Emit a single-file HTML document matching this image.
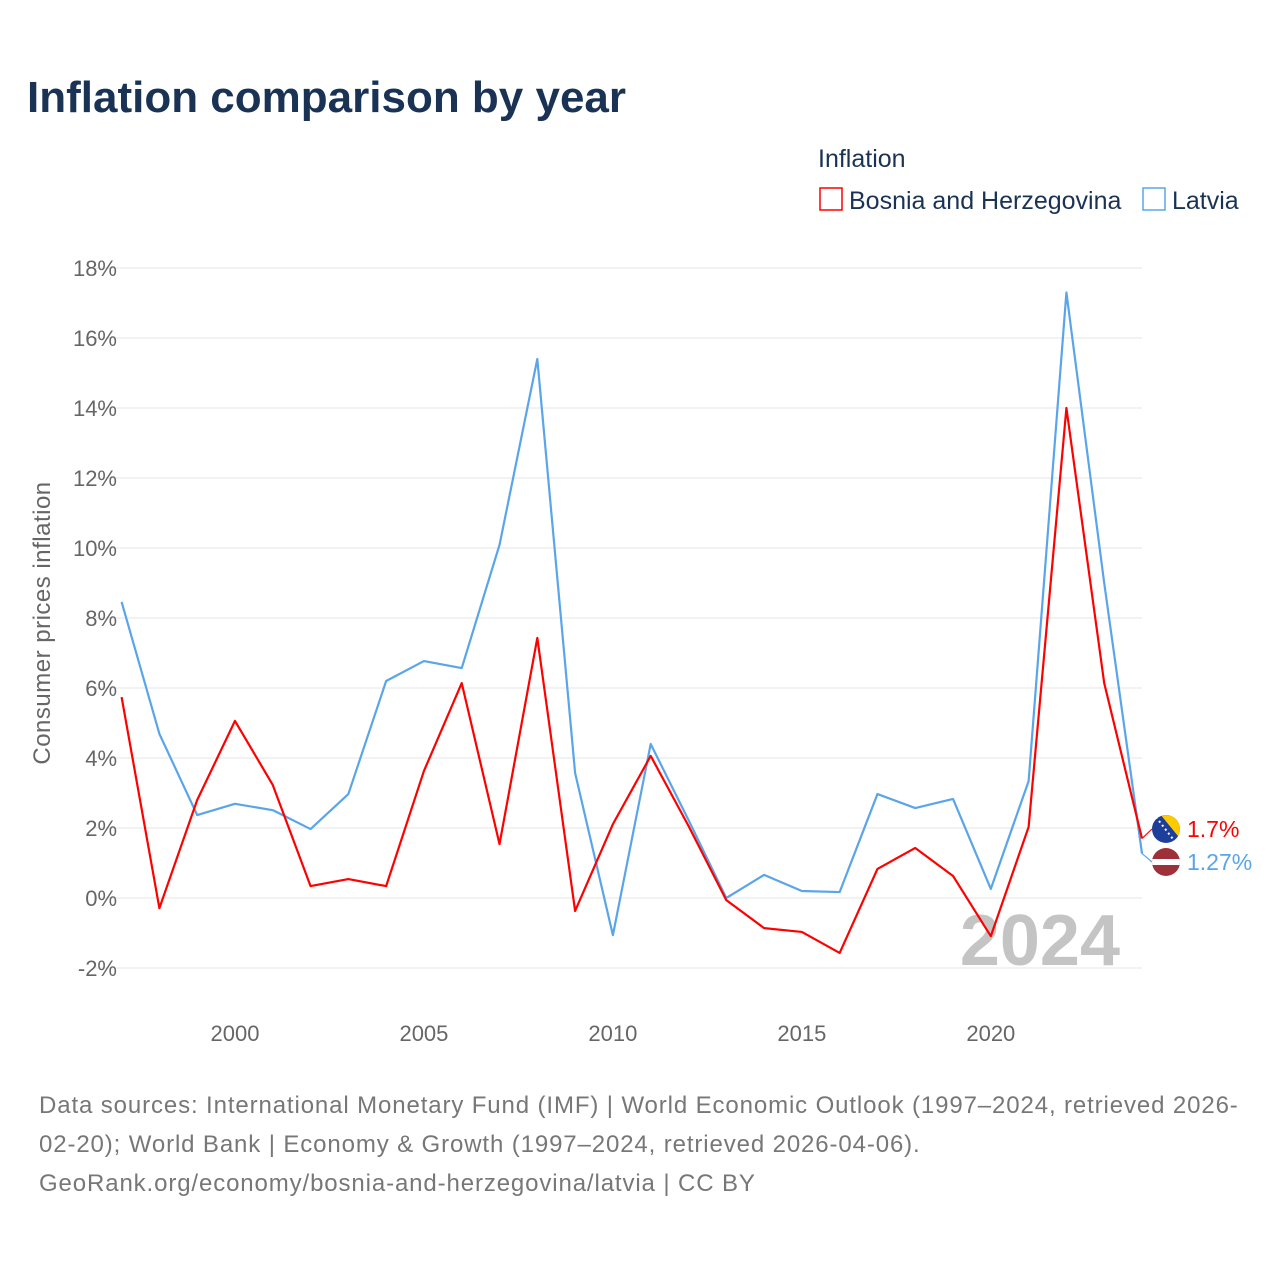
<!DOCTYPE html>
<html><head><meta charset="utf-8">
<style>
body{margin:0;background:#fff;font-family:"Liberation Sans",sans-serif;}
#wrap{position:relative;width:1280px;height:1280px;overflow:hidden;}
</style></head>
<body>
<div id="wrap">
<svg id="chart" width="1280" height="1280">
<defs>
<clipPath id="cb"><circle cx="1166" cy="829" r="14"/></clipPath>
<clipPath id="cl"><circle cx="1166" cy="862" r="14"/></clipPath>
</defs>
</svg>
</div>
<script>
const years = [1997,1998,1999,2000,2001,2002,2003,2004,2005,2006,2007,2008,2009,2010,2011,2012,2013,2014,2015,2016,2017,2018,2019,2020,2021,2022,2023,2024];
const bosnia = [5.74,-0.29,2.8,5.06,3.23,0.34,0.54,0.34,3.63,6.14,1.54,7.43,-0.37,2.11,4.06,2.06,-0.06,-0.86,-0.97,-1.57,0.83,1.43,0.63,-1.09,2.03,14.0,6.14,1.7];
const latvia = [8.46,4.69,2.37,2.69,2.51,1.97,2.97,6.2,6.77,6.57,10.09,15.4,3.57,-1.06,4.4,2.23,0,0.66,0.2,0.17,2.97,2.57,2.83,0.26,3.34,17.3,9.0,1.27];
const yTicks = [18,16,14,12,10,8,6,4,2,0,-2];
const xTicks = [2000,2005,2010,2015,2020];

const NS="http://www.w3.org/2000/svg";
const svg=document.getElementById('chart');
const x=v=>121.6+(v-1997)*(1142-121.6)/27;
const y=v=>898-v*35;
function mk(tag,attrs,parent){const e=document.createElementNS(NS,tag);for(const k in attrs)e.setAttribute(k,attrs[k]);(parent||svg).appendChild(e);return e;}
function txt(s,attrs){const e=mk('text',attrs);e.textContent=s;return e;}

let t=txt('Inflation comparison by year',{x:27,y:112,'font-size':44,'font-weight':'bold',fill:'#1a3355'});


t=txt('Inflation',{x:818,y:167,'font-size':25,fill:'#1a3355'});


let g=mk('g',{});


mk('rect',{x:820,y:188,width:22,height:22,fill:'none',stroke:'#ff0000','stroke-width':1.5},g);
let tt=mk('text',{x:849,y:209,'font-size':25,fill:'#1a3355'},g);tt.textContent='Bosnia and Herzegovina';
g=mk('g',{});


mk('rect',{x:1143,y:188,width:22,height:22,fill:'none',stroke:'#5aa5ea','stroke-width':1.5},g);
tt=mk('text',{x:1172,y:209,'font-size':25,fill:'#1a3355'},g);tt.textContent='Latvia';

yTicks.forEach(v=>{
  const l=mk('line',{x1:95,x2:1142,y1:y(v),y2:y(v),stroke:'#e6e6e6','stroke-width':1});
  
  
  const tk=txt(v+'%',{x:117,y:y(v)+8,'font-size':22,fill:'#666','text-anchor':'end'});
  
  
});
xTicks.forEach(v=>{
  const tk=txt(String(v),{x:x(v),y:1041,'font-size':22,fill:'#666','text-anchor':'middle'});
  
  
});
t=txt('Consumer prices inflation',{x:50,y:623,'font-size':24,fill:'#666','text-anchor':'middle','letter-spacing':0.5,transform:'rotate(-90 50 623)'});


t=txt('2024',{x:1120,y:965,'font-size':72,'font-weight':'bold',fill:'#c4c4c4','text-anchor':'end'});



function line(data,color,name){
  const p=mk('polyline',{points:data.map((v,i)=>x(years[i])+','+y(v)).join(' '),fill:'none',stroke:color,'stroke-width':2.2,'stroke-linejoin':'round'});
  
  
}
line(latvia,'#5aa5ea','latvia-line');
line(bosnia,'#ff0000','bosnia-line');

const bLast=bosnia[bosnia.length-1], lLast=latvia[latvia.length-1];
const by=829, ly=862;
mk('path',{d:`M${x(2024)} ${y(bLast)} L1152 ${by}`,fill:'none',stroke:'#ff0000','stroke-width':1.2});
mk('path',{d:`M${x(2024)} ${y(lLast)} L1152 ${ly}`,fill:'none',stroke:'#5aa5ea','stroke-width':1.2});
g=mk('g',{'clip-path':'url(#cb)'});


mk('rect',{x:1150,y:by-15,width:32,height:30,fill:'#1d3f9a'},g);
mk('path',{d:`M1160 ${by-15} L1182 ${by-15} L1182 ${by+12} Z`,fill:'#fecb00'},g);
mk('path',{d:`M1156 ${by-12} L1176 ${by+14}`,stroke:'#fff','stroke-width':2,'stroke-dasharray':'2 3'},g);
g=mk('g',{'clip-path':'url(#cl)'});


mk('rect',{x:1150,y:ly-15,width:32,height:30,fill:'#9e3039'},g);
mk('rect',{x:1150,y:ly-3,width:32,height:6,fill:'#fff'},g);
t=txt(bLast+'%',{x:1187,y:by+8,'font-size':23,fill:'#ff0000'});


t=txt(lLast+'%',{x:1187,y:ly+8,'font-size':23,fill:'#5aa5ea'});



const src=['Data sources: International Monetary Fund (IMF) | World Economic Outlook (1997–2024, retrieved 2026-','02-20); World Bank | Economy & Growth (1997–2024, retrieved 2026-04-06).','GeoRank.org/economy/bosnia-and-herzegovina/latvia | CC BY'];
src.forEach((s,i)=>{
  const e=txt(s,{x:39,y:1113+i*39,'font-size':24,fill:'#777','letter-spacing':0.88});
  
  
});
</script>
</body></html>
